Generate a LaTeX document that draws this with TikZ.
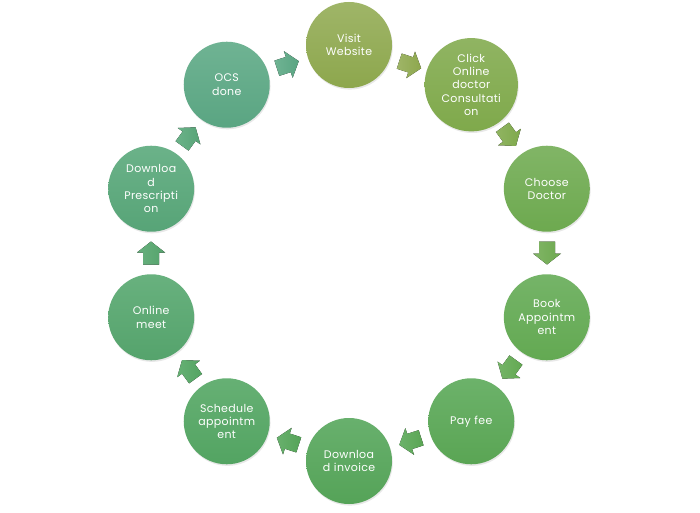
\documentclass[tikz,border=0pt]{standalone}
\usepackage{fontspec}
\setmainfont{Poppins}[LetterSpace=3]
\usetikzlibrary{shadows}
\definecolor{cAt}{HTML}{9FB568}\definecolor{cAb}{HTML}{8DA74D}
\definecolor{cBt}{HTML}{90B462}\definecolor{cBb}{HTML}{7FA94B}
\definecolor{cCt}{HTML}{81B566}\definecolor{cCb}{HTML}{6DA94F}
\definecolor{cDt}{HTML}{75B468}\definecolor{cDb}{HTML}{63A952}
\definecolor{cEt}{HTML}{6CB26A}\definecolor{cEb}{HTML}{5AA554}
\definecolor{cFt}{HTML}{68B06D}\definecolor{cFb}{HTML}{55A358}
\definecolor{cGt}{HTML}{66B074}\definecolor{cGb}{HTML}{53A462}
\definecolor{cHt}{HTML}{68B17E}\definecolor{cHb}{HTML}{55A36C}
\definecolor{cIt}{HTML}{6BB289}\definecolor{cIb}{HTML}{57A477}
\definecolor{cJt}{HTML}{6FB393}\definecolor{cJb}{HTML}{5AA582}
\tikzset{
  stagecircle/.style n args={2}{circle, minimum size=86pt, inner sep=0pt,
    top color=#1, bottom color=#2, draw=none,
    drop shadow={opacity=0.18, shadow xshift=0.8pt, shadow yshift=-1.6pt},
    text=white, align=center, text width=70pt,
    font=\fontsize{11pt}{13.3pt}\selectfont},
  pics/flowarrow/.style 2 args={code={
    \fill[left color=#1, right color=#2]
      (-11.5,-8) -- (0.5,-8) -- (0.5,-14) -- (11.5,0) -- (0.5,14) -- (0.5,8) -- (-11.5,8) -- cycle;}}
}
\begin{document}
\begin{tikzpicture}[x=1pt,y=1pt]
\useasboundingbox (0,0) rectangle (700,512);
\fill[white] (0,0) rectangle (700,512);
\begin{scope}[shift={(349,259)}]
\node[stagecircle={cAt}{cAb}] (n0) at (90:208pt) {Visit\\Website};
\node[stagecircle={cBt}{cBb}] (n1) at (54:208pt) {Click\\Online\\doctor\\Consultati\\on};
\node[stagecircle={cCt}{cCb}] (n2) at (18:208pt) {Choose\\Doctor};
\node[stagecircle={cDt}{cDb}] (n3) at (-18:208pt) {Book\\Appointm\\ent};
\node[stagecircle={cEt}{cEb}] (n4) at (-54:208pt) {Pay fee};
\node[stagecircle={cFt}{cFb}] (n5) at (-90:208pt) {Downloa\\d invoice};
\node[stagecircle={cGt}{cGb}] (n6) at (-126:208pt) {Schedule\\appointm\\ent};
\node[stagecircle={cHt}{cHb}] (n7) at (-162:208pt) {Online\\meet};
\node[stagecircle={cIt}{cIb}] (n8) at (162:208pt) {Downloa\\d\\Prescripti\\on};
\node[stagecircle={cJt}{cJb}] (n9) at (126:208pt) {OCS\\done};
\pic[rotate=-18]  (a0) at (72:198pt)   {flowarrow={cAt}{cAb}};
\pic[rotate=-54]  (a1) at (36:198pt)   {flowarrow={cBt}{cBb}};
\pic[rotate=-90]  (a2) at (0:198pt)    {flowarrow={cCt}{cCb}};
\pic[rotate=-126] (a3) at (-36:198pt)  {flowarrow={cDt}{cDb}};
\pic[rotate=-162] (a4) at (-72:198pt)  {flowarrow={cEt}{cEb}};
\pic[rotate=162]  (a5) at (-108:198pt) {flowarrow={cFt}{cFb}};
\pic[rotate=126]  (a6) at (-144:198pt) {flowarrow={cGt}{cGb}};
\pic[rotate=90]   (a7) at (180:198pt)  {flowarrow={cHt}{cHb}};
\pic[rotate=54]   (a8) at (144:198pt)  {flowarrow={cIt}{cIb}};
\pic[rotate=18]   (a9) at (108:198pt)  {flowarrow={cJt}{cJb}};
\end{scope}
\end{tikzpicture}
\end{document}
